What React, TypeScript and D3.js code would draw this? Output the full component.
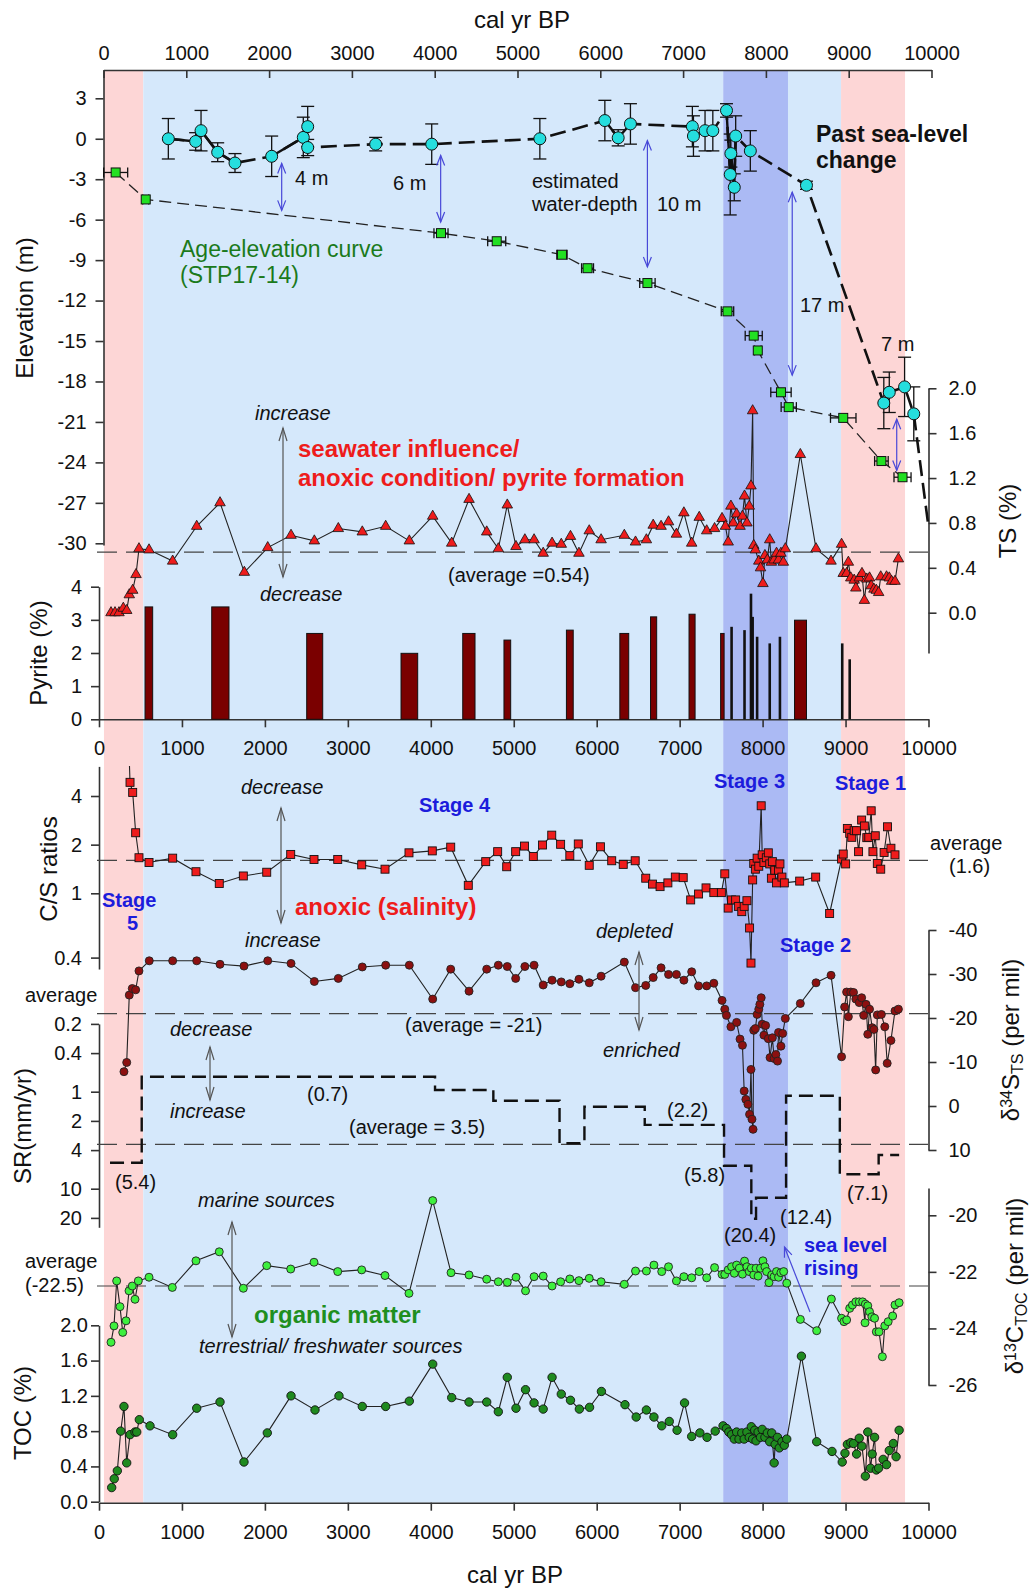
import { useEffect, useRef } from 'react';
import * as d3 from 'd3';

const FONT = "'Liberation Sans', Arial, Helvetica, sans-serif";

const yearTicks = [0, 1000, 2000, 3000, 4000, 5000, 6000, 7000, 8000, 9000, 10000];
const elevTicks = [3, 0, -3, -6, -9, -12, -15, -18, -21, -24, -27, -30];
const tsTicks = [0, 0.4, 0.8, 1.2, 1.6, 2.0];
const pyTicks = [0, 1, 2, 3, 4];
const csTicks = [0.4, 1, 2, 4];
const srTicks = [0.2, 0.4, 1, 2, 4, 10, 20];
const s34Ticks = [-40, -30, -20, -10, 0, 10];
const c13Ticks = [-20, -22, -24, -26];
const tocTicks = [0, 0.4, 0.8, 1.2, 1.6, 2.0];

// shaded stages: [from, to, kind] (cal yr BP)
const bands: [number, number, string][] = [
  [60, 534, 'pink'], [534, 7525, 'blue'], [7525, 8306, 'dark'], [8306, 8946, 'blue'], [8946, 9717, 'pink'],
];

// past sea level: [age, elevation, +/- error]
const seaLevel: [number, number, number][] = [
  [783, 0, 1.5], [1113, -0.2, 0.65], [1178, 0.6, 1.5], [1379, -1.0, 0.7], [1588, -1.8, 0.7],
  [2031, -1.3, 1.5], [2413, 0.1, 1.5], [2466, 0.9, 1.5], [2466, -0.65, 0.6], [3287, -0.4, 0.5],
  [3964, -0.4, 1.5], [5270, 0, 1.5], [6055, 1.35, 1.5], [6216, 0.07, 0.6], [6364, 1.1, 1.5],
  [7112, 0.9, 1.5], [7125, 0.2, 1.5], [7265, 0.6, 1.5], [7359, 0.6, 1.5], [7524, 2.1, 0.5],
  [7569, -2.65, 3], [7577, -1.1, 1.0], [7618, -3.6, 1.0], [7635, 0.2, 1.5], [7812, -0.9, 1.5],
  [8490, -3.45, 0.3], [9424, -19.6, 1.9], [9490, -18.8, 1.5], [9675, -18.4, 2.2], [9786, -20.4, 2.0],
];
const seaLevelTail: [number, number] = [9960, -28.6];

// age-elevation curve STP17-14: [age, elevation, +/- age error]
const ageElev: [number, number, number][] = [
  [147, -2.5, 145], [510, -4.5, 36], [4076, -7.0, 85], [4749, -7.6, 109], [5537, -8.6, 62],
  [5846, -9.6, 72], [6569, -10.7, 93], [7536, -12.8, 75], [7853, -14.6, 103], [7902, -15.7, 40],
  [8182, -18.8, 123], [8276, -19.9, 92], [8934, -20.7, 154], [9395, -23.9, 82], [9650, -25.1, 103],
];

// estimated water depth: [age, upper elev, lower elev]
const waterDepth: [number, number, number][] = [
  [2152, -1.83, -5.31], [4072, -1.24, -6.18], [6569, -0.13, -9.51], [8318, -3.96, -17.53], [9580, -20.8, -24.6],
];

const tsData: [number, number][] = [
  [145, 0.0], [193, 0.0], [241, 0.0], [293, 0.04], [334, 0.02], [365, 0.16], [406, 0.2], [446, 0.34],
  [482, 0.57], [603, 0.56], [888, 0.46], [1178, 0.77], [1459, 0.98], [1752, 0.36], [2034, 0.58],
  [2315, 0.69], [2596, 0.64], [2885, 0.75], [3174, 0.72], [3456, 0.77], [3741, 0.64], [4023, 0.86],
  [4252, 0.62], [4461, 1.01], [4674, 0.72], [4814, 0.57], [4922, 0.96], [5027, 0.59], [5134, 0.65],
  [5245, 0.65], [5355, 0.53], [5462, 0.62], [5573, 0.61], [5684, 0.68], [5786, 0.53], [5910, 0.73],
  [6053, 0.65], [6333, 0.69], [6468, 0.63], [6599, 0.65], [6681, 0.78], [6776, 0.77], [6866, 0.81],
  [6961, 0.70], [7051, 0.89], [7145, 0.62], [7236, 0.85], [7326, 0.73], [7421, 0.75], [7511, 0.84],
  [7552, 0.77], [7585, 0.63], [7618, 0.95], [7646, 0.80], [7687, 0.88], [7728, 0.77], [7757, 0.86],
  [7782, 1.04], [7811, 0.80], [7839, 0.95], [7860, 1.13], [7880, 1.80], [7893, 0.60], [7913, 0.56],
  [7954, 0.46], [7975, 0.40], [8004, 0.26], [8028, 0.51], [8057, 0.47], [8086, 0.65], [8106, 0.45],
  [8139, 0.47], [8168, 0.53], [8192, 0.47], [8221, 0.53], [8250, 0.45], [8274, 0.57], [8455, 1.41],
  [8644, 0.57], [8825, 0.46], [8952, 0.61], [8972, 0.35], [9013, 0.35], [9034, 0.45], [9063, 0.31],
  [9104, 0.29], [9124, 0.22], [9165, 0.31], [9198, 0.35], [9227, 0.11], [9256, 0.30], [9289, 0.31],
  [9309, 0.24], [9342, 0.21], [9371, 0.20], [9399, 0.18], [9424, 0.32], [9494, 0.32], [9527, 0.31],
  [9555, 0.28], [9596, 0.28], [9637, 0.48],
];

// pyrite: [from age, to age, %]
const pyrite: [number, number, number][] = [
  [555, 647, 3.39], [1359, 1567, 3.39], [2504, 2697, 2.59], [3641, 3842, 1.99], [4385, 4533, 2.59],
  [4882, 4963, 2.39], [5635, 5717, 2.69], [6279, 6386, 2.59], [6649, 6723, 3.09], [7113, 7186, 3.17],
  [7494, 7536, 2.59], [7626, 7626, 2.79], [7782, 7782, 2.69], [7860, 7860, 3.79], [7880, 7880, 3.09],
  [7934, 7934, 2.49], [8086, 8086, 2.29], [8209, 8209, 2.49], [8385, 8529, 2.99], [8960, 8960, 2.29],
  [9050, 9050, 1.81],
];

const csData: [number, number][] = [
  [360, 8], [374, 4.86], [406, 4.21], [442, 2.37], [482, 1.66], [603, 1.55], [888, 1.65], [1169, 1.36],
  [1450, 1.15], [1740, 1.28], [2022, 1.35], [2311, 1.74], [2592, 1.62], [2878, 1.62], [3167, 1.50],
  [3448, 1.41], [3737, 1.78], [4018, 1.83], [4240, 1.93], [4452, 1.12], [4662, 1.57], [4806, 1.81],
  [4915, 1.46], [5023, 1.81], [5130, 1.96], [5236, 1.69], [5347, 1.99], [5458, 2.29], [5565, 2.01],
  [5676, 1.71], [5778, 2.02], [5910, 1.49], [6045, 1.94], [6181, 1.59], [6320, 1.51], [6464, 1.59],
  [6591, 1.24], [6673, 1.14], [6764, 1.10], [6858, 1.16], [6948, 1.26], [7043, 1.25], [7133, 0.91],
  [7228, 0.99], [7318, 1.08], [7412, 1.01], [7503, 1.01], [7544, 1.32], [7585, 0.81], [7626, 0.91],
  [7675, 0.91], [7708, 0.83], [7749, 0.77], [7778, 0.83], [7811, 0.90], [7843, 0.61], [7860, 0.37],
  [7880, 1.21], [7893, 1.53], [7913, 1.41], [7934, 1.65], [7954, 1.47], [7983, 3.48], [7995, 1.73],
  [8016, 1.55], [8045, 1.66], [8069, 1.78], [8086, 1.52], [8106, 1.24], [8118, 1.57], [8147, 1.39],
  [8168, 1.16], [8192, 1.39], [8209, 1.52], [8233, 1.26], [8262, 1.16], [8447, 1.19], [8640, 1.26],
  [8808, 0.75], [8952, 1.63], [8972, 1.75], [9001, 1.52], [9022, 2.52], [9050, 2.35], [9075, 2.22],
  [9104, 2.44], [9133, 2.44], [9157, 1.81], [9194, 2.84], [9227, 2.61], [9256, 2.21], [9280, 2.22],
  [9309, 3.24], [9330, 1.81], [9358, 2.27], [9383, 1.53], [9424, 1.41], [9465, 1.79], [9506, 2.58],
  [9547, 1.90], [9596, 1.73],
];

const s34Data: [number, number][] = [
  [301, -7.8], [334, -9.9], [365, -25.2], [401, -26.7], [442, -26.4], [482, -30.7], [606, -33.0],
  [888, -33.0], [1178, -33.0], [1459, -32.2], [1748, -31.8], [2034, -33.0], [2315, -32.4], [2596, -28.3],
  [2885, -29.0], [3174, -31.6], [3456, -32.0], [3741, -32.0], [4023, -24.3], [4240, -31.1], [4461, -26.1],
  [4674, -31.1], [4814, -32.0], [4922, -31.7], [5023, -29.0], [5134, -31.7], [5245, -32.0], [5355, -27.5],
  [5462, -28.6], [5573, -28.2], [5676, -27.8], [5786, -28.8], [5910, -28.0], [6053, -29.5], [6333, -32.7],
  [6468, -26.9], [6591, -27.4], [6681, -29.2], [6776, -31.4], [6866, -29.9], [6961, -29.9], [7051, -28.6],
  [7145, -30.5], [7228, -27.3], [7326, -27.3], [7412, -27.9], [7511, -24.0], [7544, -22.0], [7564, -20.6],
  [7618, -18.0], [7687, -19.0], [7728, -15.2], [7757, -13.8], [7778, -3.4], [7798, -1.5], [7823, -0.4],
  [7843, 1.9], [7860, -8.3], [7872, 3.0], [7885, 5.3], [7893, -17.2], [7913, -17.6], [7934, -20.8],
  [7954, -22.0], [7967, -23.1], [7983, -24.6], [7995, -18.6], [8016, -16.1], [8036, -18.3], [8069, -15.3],
  [8090, -11.0], [8118, -15.5], [8139, -10.8], [8160, -11.7], [8180, -10.2], [8192, -16.7], [8221, -13.6],
  [8242, -16.5], [8274, -19.9], [8455, -23.3], [8644, -28.0], [8825, -29.7], [8952, -11.2], [8989, -22.5],
  [9013, -25.9], [9034, -20.3], [9063, -25.9], [9096, -25.8], [9124, -24.3], [9165, -23.5], [9194, -24.6],
  [9219, -20.6], [9247, -23.1], [9268, -16.3], [9289, -22.0], [9321, -17.8], [9342, -17.4], [9363, -8.2],
  [9383, -20.7], [9432, -20.8], [9473, -18.0], [9502, -9.7], [9547, -14.9], [9596, -21.6], [9637, -22.0],
];

// sedimentation rate steps (mm/yr)
const srBreaks = [133, 515, 4051, 4754, 5552, 5852, 6579, 7535, 7864, 7921, 8283, 8931, 9399, 9646];
const srValues = [5.4, 0.7, 0.96, 1.24, 3.4, 1.43, 2.2, 5.8, 20.4, 12.4, 1.1, 7.1, 4.5];

const c13Data: [number, number][] = [
  [145, -24.49], [181, -23.91], [213, -22.32], [253, -23.23], [286, -24.14], [326, -23.73], [362, -22.67],
  [401, -22.50], [434, -22.97], [474, -22.32], [603, -22.19], [884, -22.55], [1169, -21.61], [1450, -21.29],
  [1740, -22.58], [2022, -21.78], [2311, -21.90], [2592, -21.66], [2878, -21.99], [3167, -21.93],
  [3448, -22.13], [3737, -22.76], [4023, -19.48], [4244, -22.03], [4461, -22.11], [4674, -22.26],
  [4814, -22.35], [4922, -22.37], [5027, -22.19], [5142, -22.67], [5245, -22.17], [5355, -22.15],
  [5462, -22.50], [5565, -22.35], [5676, -22.25], [5786, -22.31], [5910, -22.23], [6053, -22.35],
  [6333, -22.44], [6468, -21.97], [6599, -21.97], [6690, -21.76], [6784, -21.99], [6866, -21.82],
  [6961, -22.32], [7051, -22.17], [7145, -22.21], [7236, -21.99], [7326, -22.21], [7421, -21.85],
  [7511, -22.09], [7544, -22.09], [7585, -21.93], [7626, -21.82], [7659, -22.05], [7687, -21.76],
  [7720, -21.87], [7757, -22.08], [7782, -21.62], [7811, -21.82], [7839, -21.99], [7864, -21.87],
  [7893, -22.11], [7921, -21.87], [7946, -22.15], [7975, -21.87], [8004, -21.61], [8028, -21.82],
  [8049, -21.99], [8077, -22.38], [8110, -22.11], [8139, -22.17], [8168, -21.99], [8192, -22.19],
  [8221, -22.03], [8254, -21.99], [8291, -22.40], [8455, -23.68], [8652, -24.08], [8829, -22.96],
  [8952, -23.64], [8981, -23.76], [9013, -23.70], [9050, -23.29], [9083, -23.17], [9124, -23.06],
  [9165, -23.06], [9206, -23.06], [9235, -23.80], [9239, -23.14], [9268, -23.20], [9289, -23.41],
  [9317, -23.59], [9350, -23.64], [9371, -24.12], [9404, -24.12], [9444, -25.00], [9473, -23.91],
  [9514, -23.76], [9568, -23.56], [9596, -23.17], [9646, -23.09],
];

const tocData: [number, number][] = [
  [153, 0.16], [184, 0.26], [221, 0.35], [262, 0.80], [301, 1.08], [334, 0.44], [374, 0.76], [434, 0.79],
  [455, 0.79], [486, 0.93], [615, 0.86], [888, 0.76], [1178, 1.06], [1459, 1.13], [1748, 0.45], [2029, 0.78],
  [2315, 1.20], [2604, 1.04], [2893, 1.20], [3174, 1.08], [3456, 1.08], [3741, 1.14], [4023, 1.56],
  [4252, 1.18], [4461, 1.13], [4674, 1.13], [4814, 1.02], [4922, 1.41], [5027, 1.06], [5142, 1.27],
  [5245, 1.12], [5355, 1.05], [5462, 1.41], [5573, 1.22], [5684, 1.15], [5791, 1.05], [5914, 1.07],
  [6057, 1.25], [6341, 1.10], [6476, 0.96], [6599, 1.04], [6690, 0.96], [6784, 0.86], [6875, 0.91],
  [6969, 0.81], [7059, 1.12], [7145, 0.74], [7244, 0.78], [7330, 0.73], [7429, 0.80], [7523, 0.86],
  [7564, 0.83], [7593, 0.79], [7626, 0.76], [7659, 0.71], [7687, 0.79], [7716, 0.71], [7749, 0.78],
  [7778, 0.71], [7811, 0.79], [7839, 0.73], [7864, 0.85], [7880, 0.71], [7905, 0.81], [7921, 0.69],
  [7946, 0.79], [7975, 0.73], [7995, 0.82], [8028, 0.73], [8057, 0.78], [8086, 0.68], [8110, 0.78],
  [8139, 0.44], [8151, 0.65], [8180, 0.73], [8201, 0.61], [8233, 0.68], [8262, 0.64], [8291, 0.71],
  [8468, 1.65], [8652, 0.68], [8837, 0.57], [8960, 0.45], [8993, 0.55], [9022, 0.65], [9063, 0.67],
  [9096, 0.66], [9133, 0.54], [9165, 0.72], [9198, 0.63], [9239, 0.29], [9268, 0.79], [9301, 0.38],
  [9321, 0.54], [9350, 0.73], [9371, 0.36], [9399, 0.38], [9453, 0.48], [9494, 0.42], [9527, 0.58],
  [9576, 0.66], [9609, 0.51], [9646, 0.81],
];

const averages = { ts: 0.54, cs: 1.6, s34: -21, sr: 3.5, c13: -22.5 };

const App = () => {
  const chartRef = useRef<SVGSVGElement>(null);

  useEffect(() => {
    drawChart();
  }, []);

  const drawChart = () => {
    const svg = d3.select(chartRef.current);
    svg.selectAll('*').remove();
    svg.attr('font-family', FONT);

    const xTop = d3.scaleLinear().domain([0, 10000]).range([103.5, 931.5]);
    const x = d3.scaleLinear().domain([0, 10000]).range([99, 928.5]);

    const yElev = d3.scaleLinear().domain([-30, 3]).range([543.3, 98.3]);
    const yTS = d3.scaleLinear().domain([0, 2]).range([612.7, 388.3]);
    const yPy = d3.scaleLinear().domain([0, 4]).range([719.3, 586.7]);
    const yCS = d3.scaleLog().domain([1, 10]).range([893.3, 731.7]);
    const ySR = d3.scaleLog().domain([1, 10]).range([1091.7, 1188.7]);
    const yS34 = d3.scaleLinear().domain([-40, 10]).range([930, 1150]);
    const yC13 = d3.scaleLinear().domain([-20, -26]).range([1215.3, 1385]);
    const yTOC = d3.scaleLinear().domain([0, 2]).range([1501.7, 1325.3]);

    // same mapping, axis line drawn over [lo, hi]
    const span = (s: any, lo: number, hi: number) => s.copy().domain([lo, hi]).range([s(lo), s(hi)]);

    const defs = svg.append('defs');
    const marker = (id: string, color: string, len: number, half: number) => {
      defs.append('marker').attr('id', id)
        .attr('viewBox', `0 0 ${len} ${half * 2}`)
        .attr('refX', len).attr('refY', half)
        .attr('markerWidth', len).attr('markerHeight', half * 2)
        .attr('markerUnits', 'userSpaceOnUse')
        .attr('orient', 'auto-start-reverse')
        .style('overflow', 'visible')
        .append('path')
        .attr('d', `M0,0 L${len},${half} L0,${half * 2}`)
        .attr('fill', 'none').attr('stroke', color).attr('stroke-width', 1.2);
    };
    marker('greyHead', '#555', 13, 4);
    marker('blueHead', '#4848d8', 10, 4);
    defs.append('clipPath').attr('id', 'csClip')
      .append('rect').attr('x', 90).attr('y', 766).attr('width', 850).attr('height', 210);

    // background stages
    const bandFill: Record<string, string> = { pink: '#fdd6d6', blue: '#d5e8fb', dark: '#abbaf4' };
    svg.append('g').selectAll('rect').data(bands).join('rect')
      .attr('x', d => x(d[0])).attr('width', d => x(d[1]) - x(d[0]))
      .attr('y', 70).attr('height', 1502.7 - 70)
      .attr('fill', d => bandFill[d[2]]);

    const num = (d: any) => `${d}`;
    const fix1 = (d: any) => (+d).toFixed(1);
    const styleAxis = (g: any) => {
      g.attr('font-size', 20).attr('font-family', FONT);
      g.selectAll('path.domain').attr('stroke', '#333').attr('stroke-width', 1.6);
      g.selectAll('.tick line').attr('stroke', '#333').attr('stroke-width', 1.6);
      g.selectAll('.tick text').attr('fill', '#111');
    };

    // x axes
    svg.append('g').attr('transform', 'translate(0,70)')
      .call(d3.axisTop(xTop).tickValues(yearTicks).tickSizeInner(-8).tickSizeOuter(0).tickPadding(10).tickFormat(num))
      .call(styleAxis);
    svg.append('g').attr('transform', 'translate(0,719.3)')
      .call(d3.axisBottom(x).tickValues(yearTicks).tickSizeInner(8).tickSizeOuter(0).tickPadding(14).tickFormat(num))
      .call(styleAxis);
    svg.append('g').attr('transform', 'translate(0,1502.7)')
      .call(d3.axisBottom(x).tickValues(yearTicks).tickSizeInner(8).tickSizeOuter(0).tickPadding(14).tickFormat(num))
      .call(styleAxis);

    // y axes
    svg.append('g').attr('transform', 'translate(103.5,0)')
      .call(d3.axisLeft(span(yElev, yElev.invert(545), yElev.invert(70))).tickValues(elevTicks)
        .tickSizeInner(8).tickSizeOuter(0).tickPadding(9).tickFormat(num))
      .call(styleAxis);
    svg.append('g').attr('transform', 'translate(99,0)')
      .call(d3.axisLeft(yPy).tickValues(pyTicks).tickSizeInner(8).tickSizeOuter(0).tickPadding(9).tickFormat(num))
      .call(styleAxis);
    svg.append('g').attr('transform', 'translate(928.5,0)')
      .call(d3.axisRight(span(yTS, -0.36, 2)).tickValues(tsTicks).tickSizeInner(8).tickSizeOuter(0).tickPadding(12).tickFormat(fix1))
      .call(styleAxis);
    svg.append('g').attr('transform', 'translate(99,0)')
      .call(d3.axisLeft(span(yCS, 0.34, 6.1)).tickValues(csTicks).tickSizeInner(8).tickSizeOuter(0).tickPadding(9).tickFormat(num))
      .call(styleAxis);
    svg.append('g').attr('transform', 'translate(99,0)')
      .call(d3.axisLeft(span(ySR, 0.2, 25)).tickValues(srTicks).tickSizeInner(8).tickSizeOuter(0).tickPadding(9).tickFormat(num))
      .call(styleAxis);
    svg.append('g').attr('transform', 'translate(928.5,0)')
      .call(d3.axisRight(yS34).tickValues(s34Ticks).tickSizeInner(8).tickSizeOuter(0).tickPadding(12).tickFormat(num))
      .call(styleAxis);
    svg.append('g').attr('transform', 'translate(928.5,0)')
      .call(d3.axisRight(span(yC13, -26, yC13.invert(1188))).tickValues(c13Ticks).tickSizeInner(8).tickSizeOuter(0).tickPadding(12).tickFormat(num))
      .call(styleAxis);
    svg.append('g').attr('transform', 'translate(99,0)')
      .call(d3.axisLeft(yTOC).tickValues(tocTicks).tickSizeInner(8).tickSizeOuter(0).tickPadding(3).tickFormat(fix1))
      .call(styleAxis);

    // axis titles
    const vTitle = (cx: number, cy: number, parts: [string, string][]) => {
      const t = svg.append('text')
        .attr('transform', `translate(${cx},${cy}) rotate(-90)`)
        .attr('text-anchor', 'middle').attr('font-size', 24).attr('fill', '#111');
      parts.forEach(([s, kind]) => {
        const sp = t.append('tspan').text(s);
        if (kind === 'sup') sp.attr('font-size', 16).attr('baseline-shift', '45%');
        if (kind === 'sub') sp.attr('font-size', 16).attr('baseline-shift', '-25%');
      });
    };
    vTitle(33, 308, [['Elevation (m)', '']]);
    vTitle(47, 653, [['Pyrite (%)', '']]);
    vTitle(1016, 521, [['TS (%)', '']]);
    vTitle(57, 869, [['C/S ratios', '']]);
    vTitle(31, 1126, [['SR(mm/yr)', '']]);
    vTitle(31, 1413, [['TOC (%)', '']]);
    vTitle(1019, 1040, [['δ', ''], ['34', 'sup'], ['S', ''], ['TS', 'sub'], [' (per mil)', '']]);
    vTitle(1023, 1286, [['δ', ''], ['13', 'sup'], ['C', ''], ['TOC', 'sub'], [' (per mil)', '']]);

    // average lines
    const avgLine = (y: number) => svg.append('line')
      .attr('x1', 97).attr('x2', 928).attr('y1', y).attr('y2', y)
      .attr('stroke', '#444').attr('stroke-width', 1.2).attr('stroke-dasharray', '20,9');
    avgLine(yTS(averages.ts));
    avgLine(yCS(averages.cs));
    avgLine(yS34(averages.s34));
    avgLine(ySR(averages.sr));
    avgLine(yC13(averages.c13));

    // ---- sea level panel ----
    const slLine = d3.line<[number, number]>().x(d => xTop(d[0])).y(d => yElev(d[1]));
    const slPts: [number, number][] = seaLevel.map(d => [d[0], d[1]] as [number, number]).concat([seaLevelTail]);
    svg.append('path').attr('d', slLine(slPts)).attr('fill', 'none')
      .attr('stroke', '#111').attr('stroke-width', 2.6).attr('stroke-dasharray', '16,7');
    [[0, 5], [5, 7], [12, 15], [19, 24]].forEach(([a, b]) => {
      svg.append('path').attr('d', slLine(slPts.slice(a, b))).attr('fill', 'none')
        .attr('stroke', '#111').attr('stroke-width', 2.4);
    });

    const aeLine = d3.line<[number, number, number]>().x(d => xTop(d[0])).y(d => yElev(d[1]));
    svg.append('path').attr('d', aeLine(ageElev)).attr('fill', 'none')
      .attr('stroke', '#222').attr('stroke-width', 1.3).attr('stroke-dasharray', '12,6');

    // horizontal error bars for age-elevation
    const aeErr = svg.append('g').attr('stroke', '#111').attr('stroke-width', 1.3);
    ageElev.forEach(d => {
      const y = yElev(d[1]);
      const x1 = xTop(d[0] - d[2]), x2 = xTop(d[0] + d[2]);
      aeErr.append('line').attr('x1', x1).attr('x2', x2).attr('y1', y).attr('y2', y);
      aeErr.append('line').attr('x1', x1).attr('x2', x1).attr('y1', y - 5).attr('y2', y + 5);
      aeErr.append('line').attr('x1', x2).attr('x2', x2).attr('y1', y - 5).attr('y2', y + 5);
    });
    svg.append('g').selectAll('rect').data(ageElev).join('rect')
      .attr('x', d => xTop(d[0]) - 4.5).attr('y', d => yElev(d[1]) - 4.5)
      .attr('width', 9).attr('height', 9)
      .attr('fill', '#22e022').attr('stroke', '#111').attr('stroke-width', 1);

    // vertical error bars for sea level
    const slErr = svg.append('g').attr('stroke', '#111').attr('stroke-width', 1.3);
    seaLevel.forEach(d => {
      const cx = xTop(d[0]);
      const y1 = yElev(d[1] + d[2]), y2 = yElev(d[1] - d[2]);
      slErr.append('line').attr('x1', cx).attr('x2', cx).attr('y1', y1).attr('y2', y2);
      slErr.append('line').attr('x1', cx - 6.5).attr('x2', cx + 6.5).attr('y1', y1).attr('y2', y1);
      slErr.append('line').attr('x1', cx - 6.5).attr('x2', cx + 6.5).attr('y1', y2).attr('y2', y2);
    });
    svg.append('g').selectAll('circle').data(seaLevel).join('circle')
      .attr('cx', d => xTop(d[0])).attr('cy', d => yElev(d[1])).attr('r', 6)
      .attr('fill', '#25dede').attr('stroke', '#111').attr('stroke-width', 1);

    // water depth arrows
    svg.append('g').selectAll('line').data(waterDepth).join('line')
      .attr('x1', d => xTop(d[0])).attr('x2', d => xTop(d[0]))
      .attr('y1', d => yElev(d[1])).attr('y2', d => yElev(d[2]))
      .attr('stroke', '#4848d8').attr('stroke-width', 1.2)
      .attr('marker-start', 'url(#blueHead)').attr('marker-end', 'url(#blueHead)');

    // ---- TS ----
    const tsLine = d3.line<[number, number]>().x(d => x(d[0])).y(d => yTS(d[1]));
    svg.append('path').attr('d', tsLine(tsData)).attr('fill', 'none').attr('stroke', '#222').attr('stroke-width', 1.1);
    const tri = d3.symbol().type(d3.symbolTriangle).size(48);
    svg.append('g').selectAll('path').data(tsData).join('path')
      .attr('d', tri).attr('transform', d => `translate(${x(d[0])},${yTS(d[1])})`)
      .attr('fill', '#ee1c1c').attr('stroke', '#111').attr('stroke-width', 0.8);

    // ---- pyrite ----
    const pyG = svg.append('g');
    pyrite.forEach(d => {
      if (d[1] > d[0]) {
        pyG.append('rect').attr('x', x(d[0])).attr('width', x(d[1]) - x(d[0]))
          .attr('y', yPy(d[2])).attr('height', yPy(0) - yPy(d[2]))
          .attr('fill', '#7a0000').attr('stroke', '#111').attr('stroke-width', 1);
      } else {
        pyG.append('line').attr('x1', x(d[0])).attr('x2', x(d[0]))
          .attr('y1', yPy(d[2])).attr('y2', yPy(0))
          .attr('stroke', '#111').attr('stroke-width', 2.6);
      }
    });

    // ---- C/S ----
    const csG = svg.append('g').attr('clip-path', 'url(#csClip)');
    const csLine = d3.line<[number, number]>().x(d => x(d[0])).y(d => yCS(d[1]));
    csG.append('path').attr('d', csLine(csData)).attr('fill', 'none').attr('stroke', '#222').attr('stroke-width', 1.1);
    csG.selectAll('rect').data(csData).join('rect')
      .attr('x', d => x(d[0]) - 4).attr('y', d => yCS(d[1]) - 4).attr('width', 8).attr('height', 8)
      .attr('fill', '#ee1c1c').attr('stroke', '#111').attr('stroke-width', 0.9);

    // ---- d34S ----
    const s34Line = d3.line<[number, number]>().x(d => x(d[0])).y(d => yS34(d[1]));
    svg.append('path').attr('d', s34Line(s34Data)).attr('fill', 'none').attr('stroke', '#222').attr('stroke-width', 1.1);
    svg.append('g').selectAll('circle').data(s34Data).join('circle')
      .attr('cx', d => x(d[0])).attr('cy', d => yS34(d[1])).attr('r', 4)
      .attr('fill', '#8c1010').attr('stroke', '#222').attr('stroke-width', 0.9);

    // ---- SR steps ----
    const srPts: [number, number][] = srValues.map((v, i) => [srBreaks[i], v] as [number, number]);
    srPts.push([srBreaks[srBreaks.length - 1], srValues[srValues.length - 1]]);
    const srLine = d3.line<[number, number]>().x(d => x(d[0])).y(d => ySR(d[1])).curve(d3.curveStepAfter);
    svg.append('path').attr('d', srLine(srPts)).attr('fill', 'none')
      .attr('stroke', '#111').attr('stroke-width', 2.4).attr('stroke-dasharray', '14,7');

    // ---- d13C ----
    const c13Line = d3.line<[number, number]>().x(d => x(d[0])).y(d => yC13(d[1]));
    svg.append('path').attr('d', c13Line(c13Data)).attr('fill', 'none').attr('stroke', '#222').attr('stroke-width', 1.1);
    svg.append('g').selectAll('circle').data(c13Data).join('circle')
      .attr('cx', d => x(d[0])).attr('cy', d => yC13(d[1])).attr('r', 4)
      .attr('fill', '#3ef03e').attr('stroke', '#222').attr('stroke-width', 0.9);

    // ---- TOC ----
    const tocLine = d3.line<[number, number]>().x(d => x(d[0])).y(d => yTOC(d[1]));
    svg.append('path').attr('d', tocLine(tocData)).attr('fill', 'none').attr('stroke', '#222').attr('stroke-width', 1.1);
    svg.append('g').selectAll('circle').data(tocData).join('circle')
      .attr('cx', d => x(d[0])).attr('cy', d => yTOC(d[1])).attr('r', 4.2)
      .attr('fill', '#1f8a1f').attr('stroke', '#111').attr('stroke-width', 0.9);

    // grey direction arrows
    const greyArrows = [[283, 428, 577], [281, 808, 923], [639, 952, 1030], [210, 1047, 1100], [232, 1222, 1337]];
    svg.append('g').selectAll('line').data(greyArrows).join('line')
      .attr('x1', d => d[0]).attr('x2', d => d[0]).attr('y1', d => d[1]).attr('y2', d => d[2])
      .attr('stroke', '#555').attr('stroke-width', 1.2)
      .attr('marker-start', 'url(#greyHead)').attr('marker-end', 'url(#greyHead)');
    svg.append('line').attr('x1', 810).attr('y1', 1312).attr('x2', 784.5).attr('y2', 1247)
      .attr('stroke', '#4848d8').attr('stroke-width', 1.2).attr('marker-end', 'url(#blueHead)');

    // annotations
    type Note = [string, number, number, number, string, string, string];
    const notes: Note[] = [
      ['cal yr BP', 522, 28, 24, 'normal', 'normal', '#111'],
      ['cal yr BP', 515, 1583, 24, 'normal', 'normal', '#111'],
      ['Past sea-level', 816, 142, 23, 'bold', 'normal', '#111'],
      ['change', 816, 168, 23, 'bold', 'normal', '#111'],
      ['estimated', 532, 188, 20, 'normal', 'normal', '#111'],
      ['water-depth', 532, 211, 20, 'normal', 'normal', '#111'],
      ['4 m', 295, 185, 20, 'normal', 'normal', '#111'],
      ['6 m', 393, 190, 20, 'normal', 'normal', '#111'],
      ['10 m', 657, 211, 20, 'normal', 'normal', '#111'],
      ['17 m', 800, 312, 20, 'normal', 'normal', '#111'],
      ['7 m', 881, 351, 20, 'normal', 'normal', '#111'],
      ['Age-elevation curve', 180, 257, 23, 'normal', 'normal', '#1b7a1b'],
      ['(STP17-14)', 180, 283, 23, 'normal', 'normal', '#1b7a1b'],
      ['increase', 255, 420, 20, 'normal', 'italic', '#111'],
      ['seawater influence/', 298, 457, 24, 'bold', 'normal', '#ee1c1c'],
      ['anoxic condition/ pyrite formation', 298, 486, 24, 'bold', 'normal', '#ee1c1c'],
      ['decrease', 260, 601, 20, 'normal', 'italic', '#111'],
      ['(average =0.54)', 448, 582, 20, 'normal', 'normal', '#111'],
      ['decrease', 241, 794, 20, 'normal', 'italic', '#111'],
      ['Stage 4', 419, 812, 20, 'bold', 'normal', '#1c1cdc'],
      ['Stage 3', 714, 788, 20, 'bold', 'normal', '#1c1cdc'],
      ['Stage 1', 835, 790, 20, 'bold', 'normal', '#1c1cdc'],
      ['average', 930, 850, 20, 'normal', 'normal', '#111'],
      ['(1.6)', 949, 873, 20, 'normal', 'normal', '#111'],
      ['anoxic (salinity)', 295, 915, 24, 'bold', 'normal', '#ee1c1c'],
      ['Stage', 102, 907, 20, 'bold', 'normal', '#1c1cdc'],
      ['5', 127, 930, 20, 'bold', 'normal', '#1c1cdc'],
      ['depleted', 596, 938, 20, 'normal', 'italic', '#111'],
      ['increase', 245, 947, 20, 'normal', 'italic', '#111'],
      ['Stage 2', 780, 952, 20, 'bold', 'normal', '#1c1cdc'],
      ['average', 25, 1002, 20, 'normal', 'normal', '#111'],
      ['(average = -21)', 405, 1032, 20, 'normal', 'normal', '#111'],
      ['decrease', 170, 1036, 20, 'normal', 'italic', '#111'],
      ['enriched', 603, 1057, 20, 'normal', 'italic', '#111'],
      ['(0.7)', 307, 1101, 20, 'normal', 'normal', '#111'],
      ['(2.2)', 667, 1117, 20, 'normal', 'normal', '#111'],
      ['increase', 170, 1118, 20, 'normal', 'italic', '#111'],
      ['(average = 3.5)', 349, 1134, 20, 'normal', 'normal', '#111'],
      ['(5.8)', 684, 1182, 20, 'normal', 'normal', '#111'],
      ['(5.4)', 115, 1189, 20, 'normal', 'normal', '#111'],
      ['(7.1)', 847, 1200, 20, 'normal', 'normal', '#111'],
      ['marine sources', 198, 1207, 20, 'normal', 'italic', '#111'],
      ['(12.4)', 780, 1224, 20, 'normal', 'normal', '#111'],
      ['(20.4)', 724, 1242, 20, 'normal', 'normal', '#111'],
      ['sea level', 804, 1252, 20, 'bold', 'normal', '#1c1cdc'],
      ['rising', 804, 1275, 20, 'bold', 'normal', '#1c1cdc'],
      ['average', 25, 1268, 20, 'normal', 'normal', '#111'],
      ['(-22.5)', 25, 1292, 20, 'normal', 'normal', '#111'],
      ['organic matter', 254, 1323, 24, 'bold', 'normal', '#1f8f1f'],
      ['terrestrial/ freshwater sources', 199, 1353, 20, 'normal', 'italic', '#111'],
    ];
    svg.append('g').selectAll('text').data(notes).join('text')
      .attr('x', d => d[1]).attr('y', d => d[2])
      .attr('text-anchor', d => (d[0] === 'cal yr BP' ? 'middle' : 'start'))
      .attr('font-size', d => d[3]).attr('font-weight', d => d[4]).attr('font-style', d => d[5])
      .attr('fill', d => d[6])
      .text(d => d[0]);
  };

  return (
    <svg ref={chartRef} width={1034} height={1590}
      style={{ position: 'absolute', left: 0, top: 0, background: '#fff' }} />
  );
};

export default App;
